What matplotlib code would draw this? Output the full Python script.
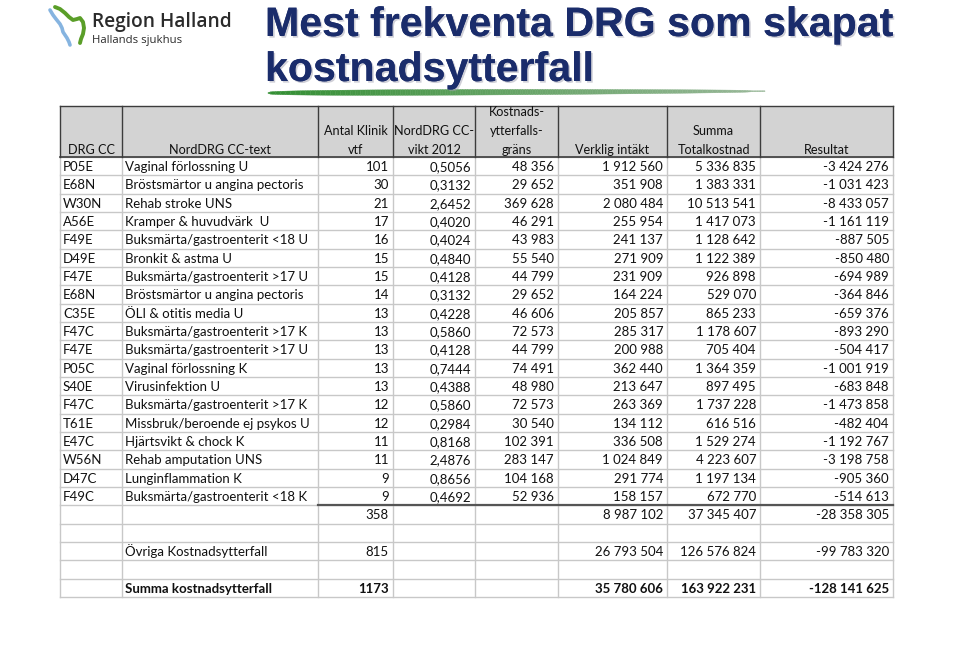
import matplotlib
matplotlib.use("Agg")
import matplotlib.pyplot as plt
import matplotlib.patheffects as pe
import numpy as np
from matplotlib.patches import Rectangle, Polygon

# ---------------- data ----------------
drg_cc = ["P05E", "E68N", "W30N", "A56E", "F49E", "D49E", "F47E", "E68N", "C35E", "F47C",
          "F47E", "P05C", "S40E", "F47C", "T61E", "E47C", "W56N", "D47C", "F49C"]
drg_text = ["Vaginal förlossning U", "Bröstsmärtor u angina pectoris", "Rehab stroke UNS",
            "Kramper & huvudvärk  U", "Buksmärta/gastroenterit <18 U", "Bronkit & astma U",
            "Buksmärta/gastroenterit >17 U", "Bröstsmärtor u angina pectoris",
            "ÖLI & otitis media U", "Buksmärta/gastroenterit >17 K",
            "Buksmärta/gastroenterit >17 U", "Vaginal förlossning K", "Virusinfektion U",
            "Buksmärta/gastroenterit >17 K", "Missbruk/beroende ej psykos U",
            "Hjärtsvikt & chock K", "Rehab amputation UNS", "Lunginflammation K",
            "Buksmärta/gastroenterit <18 K"]
antal_vtf = [101, 30, 21, 17, 16, 15, 15, 14, 13, 13, 13, 13, 13, 12, 12, 11, 11, 9, 9]
cc_vikt = [0.5056, 0.3132, 2.6452, 0.4020, 0.4024, 0.4840, 0.4128, 0.3132, 0.4228, 0.5860,
           0.4128, 0.7444, 0.4388, 0.5860, 0.2984, 0.8168, 2.4876, 0.8656, 0.4692]
grans = [48356, 29652, 369628, 46291, 43983, 55540, 44799, 29652, 46606, 72573,
         44799, 74491, 48980, 72573, 30540, 102391, 283147, 104168, 52936]
verklig_intakt = [1912560, 351908, 2080484, 255954, 241137, 271909, 231909, 164224, 205857,
                  285317, 200988, 362440, 213647, 263369, 134112, 336508, 1024849, 291774, 158157]
totalkostnad = [5336835, 1383331, 10513541, 1417073, 1128642, 1122389, 926898, 529070, 865233,
                1178607, 705404, 1364359, 897495, 1737228, 616516, 1529274, 4223607, 1197134, 672770]
resultat = [-3424276, -1031423, -8433057, -1161119, -887505, -850480, -694989, -364846, -659376,
            -893290, -504417, -1001919, -683848, -1473858, -482404, -1192767, -3198758, -905360,
            -514613]

summary_labels = ["", "", "Övriga Kostnadsytterfall", "", "Summa kostnadsytterfall"]
summary_antal = [358, None, 815, None, 1173]
summary_intakt = [8987102, None, 26793504, None, 35780606]
summary_total = [37345407, None, 126576824, None, 163922231]
summary_resultat = [-28358305, None, -99783320, None, -128141625]

headers = [["DRG CC"], ["NordDRG CC-text"], ["Antal Klinik", "vtf"], ["NordDRG CC-", "vikt 2012"],
           ["Kostnads-", "ytterfalls-", "gräns"], ["Verklig intäkt"], ["Summa", "Totalkostnad"],
           ["Resultat"]]

title_lines = ["Mest frekventa DRG som skapat", "kostnadsytterfall"]


def fmt_int(v):
    s = f"{abs(v):,}".replace(",", " ")
    return ("-" if v < 0 else "") + s


def fmt_dec(v):
    return f"{v:.4f}".replace(".", ",")


# ---------------- figure ----------------
W, H = 960, 653
fig = plt.figure(figsize=(W / 100, H / 100), dpi=100)
ax = fig.add_axes([0, 0, 1, 1])
ax.set_xlim(0, W)
ax.set_ylim(H, 0)
ax.axis("off")

FONT = ["Lato", "DejaVu Sans"]
FS = 9.5
HFS = 9.1

col_edges = [60, 122, 318, 393, 475, 558, 667, 760, 893]
head_top, head_bot = 106, 157
row_h = 18.33
n_rows = len(drg_cc) + len(summary_labels)
table_bot = head_bot + n_rows * row_h

# header
ax.add_patch(Rectangle((col_edges[0], head_top), col_edges[-1] - col_edges[0], head_bot - head_top,
                       facecolor="#d3d3d3", edgecolor="none", zorder=1))
# light grid
grid_c = "#c8c8c8"
for i in range(n_rows + 1):
    y = head_bot + i * row_h
    ax.plot([col_edges[0], col_edges[-1]], [y, y], color=grid_c, lw=1.0, zorder=2)
for x in col_edges:
    ax.plot([x, x], [head_bot, table_bot], color=grid_c, lw=1.0, zorder=2)
# header borders (dark)
dark = "#3c3c3c"
for x in col_edges:
    ax.plot([x, x], [head_top, head_bot], color=dark, lw=1.0, zorder=3)
ax.plot([col_edges[0], col_edges[-1]], [head_top, head_top], color=dark, lw=1.0, zorder=3)
ax.plot([col_edges[0], col_edges[-1]], [head_bot, head_bot], color=dark, lw=1.2, zorder=3)
# dark line under last data row
y_sep = head_bot + len(drg_cc) * row_h
ax.plot([col_edges[2], col_edges[-1]], [y_sep, y_sep], color="#555555", lw=1.6, zorder=3)

# header text
line_gap = 18.5
for c, lines in enumerate(headers):
    xc = (col_edges[c] + col_edges[c + 1]) / 2
    for k, t in enumerate(reversed(lines)):
        ax.text(xc, head_bot - 3.5 - k * line_gap, t, ha="center", va="baseline", fontsize=HFS,
                family=FONT, color="#111111", zorder=4)

pad = 4


def cell_text(r, c, s, align="right", bold=False):
    y = head_bot + (r + 0.5) * row_h + 5
    if align == "right":
        x, ha = col_edges[c + 1] - pad, "right"
    else:
        x, ha = col_edges[c] + 3, "left"
    ax.text(x, y, s, ha=ha, va="baseline", fontsize=FS, family=FONT, color="#111111",
            fontweight="bold" if bold else "normal", zorder=4)


for r in range(len(drg_cc)):
    cell_text(r, 0, drg_cc[r], "left")
    cell_text(r, 1, drg_text[r], "left")
    cell_text(r, 2, str(antal_vtf[r]))
    cell_text(r, 3, fmt_dec(cc_vikt[r]))
    cell_text(r, 4, fmt_int(grans[r]))
    cell_text(r, 5, fmt_int(verklig_intakt[r]))
    cell_text(r, 6, fmt_int(totalkostnad[r]))
    cell_text(r, 7, fmt_int(resultat[r]))

for k in range(len(summary_labels)):
    r = len(drg_cc) + k
    bold = (k == len(summary_labels) - 1)
    if summary_labels[k]:
        cell_text(r, 1, summary_labels[k], "left", bold)
    if summary_antal[k] is not None:
        cell_text(r, 2, str(summary_antal[k]), bold=bold)
        cell_text(r, 5, fmt_int(summary_intakt[k]), bold=bold)
        cell_text(r, 6, fmt_int(summary_total[k]), bold=bold)
        cell_text(r, 7, fmt_int(summary_resultat[k]), bold=bold)

# ---------------- title ----------------
shadow = [pe.withSimplePatchShadow(offset=(1.2, -1.2), shadow_rgbFace="#a0a0b0", alpha=0.5),
          pe.Normal()]
TFONT = ["Liberation Sans", "DejaVu Sans"]
ax.text(265, 36, title_lines[0], ha="left", va="baseline", fontsize=29.6, fontweight="bold",
        family=TFONT, color="#1a2c6b", path_effects=shadow, zorder=5)
ax.text(265, 81, title_lines[1], ha="left", va="baseline", fontsize=29.6, fontweight="bold",
        family=TFONT, color="#1a2c6b", path_effects=shadow, zorder=5)

# green brush stroke
xs = np.linspace(268, 765, 200)
t = (xs - xs[0]) / (xs[-1] - xs[0])
thick = 3.0 * np.sin(np.pi * np.clip(t * 1.03, 0, 1)) ** 0.35 * (1 - 0.5 * t) + 0.4
yc = 93 - 1.8 * t
for i in range(len(xs) - 1):
    g = (0.20 + 0.40 * t[i], 0.56 + 0.16 * t[i], 0.20 + 0.40 * t[i])
    poly = Polygon([[xs[i], yc[i] - thick[i]], [xs[i + 1], yc[i + 1] - thick[i + 1]],
                    [xs[i + 1], yc[i + 1] + thick[i + 1]], [xs[i], yc[i] + thick[i]]],
                   closed=True, facecolor=g, edgecolor=g, lw=0.3, zorder=4)
    ax.add_patch(poly)

# ---------------- logo ----------------
blue_x = [50, 53, 56, 60, 62, 63, 65, 67, 69, 70]
blue_y = [10, 15, 19, 24, 28, 32, 35, 38, 42, 45]
green_x = [55, 60, 65, 69, 73, 77, 80, 83, 84, 83, 81, 80]
green_y = [7, 9, 13, 17, 20, 19, 18, 22, 28, 34, 39, 43]
ax.plot(blue_x, blue_y, color="#86b4e0", lw=2.6, solid_capstyle="round", zorder=5)
ax.plot(green_x, green_y, color="#5a9e28", lw=2.8, solid_capstyle="round", zorder=5)
ax.text(92, 22, "Region Halland", ha="left", va="center", fontsize=13.8,
        family=["Open Sans", "DejaVu Sans"], fontweight="semibold", color="#2b2b2b", zorder=5)
ax.text(92, 41, "Hallands sjukhus", ha="left", va="center", fontsize=8.2,
        family=["Open Sans", "DejaVu Sans"], fontweight="normal", color="#2b2b2b", zorder=5)

fig.savefig("out.png", dpi=100, facecolor="white")
